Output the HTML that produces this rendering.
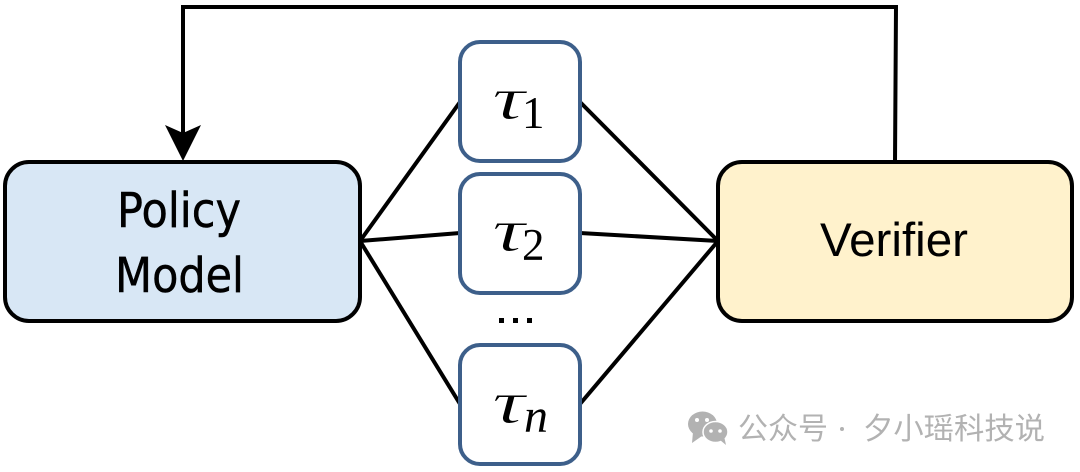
<!DOCTYPE html>
<html>
<head>
<meta charset="utf-8">
<style>
html,body{margin:0;padding:0;background:#fff;width:1080px;height:472px;overflow:hidden}
svg{display:block}
</style>
</head>
<body>
<svg width="1080" height="472" viewBox="0 0 1080 472" xmlns="http://www.w3.org/2000/svg">
<g fill="none" stroke="#000" stroke-width="4">
<path d="M360 241 L460 102"/>
<path d="M360 241 L460 233"/>
<path d="M360 241 L460 404"/>
<path d="M580 102 L718 241"/>
<path d="M580 233 L718 241"/>
<path d="M580 404 L718 241"/>
<path d="M895 162 L896 7 L183 7 L183 140"/>
</g>
<path d="M165 125 L183 133 L201 125 L183 161 Z" fill="#000"/>
<rect x="5" y="162" width="355" height="159" rx="24" fill="#d8e7f5" stroke="#000" stroke-width="4"/>
<rect x="718" y="162" width="354" height="159" rx="24" fill="#fff2cc" stroke="#000" stroke-width="4"/>
<g fill="#fff" stroke="#3d5f8a" stroke-width="4">
<rect x="460" y="42" width="120" height="119" rx="20"/>
<rect x="460" y="174" width="120" height="119" rx="20"/>
<rect x="460" y="345" width="120" height="119" rx="20"/>
</g>
<g font-family="'DejaVu Sans','Liberation Sans',sans-serif" font-size="48" fill="#000" stroke="#000" stroke-width="0.5" text-anchor="middle">
<text x="179" y="227" textLength="124" lengthAdjust="spacingAndGlyphs">Policy</text>
<text x="179.5" y="292" textLength="129" lengthAdjust="spacingAndGlyphs">Model</text>
</g>
<text x="894" y="256" font-family="'Liberation Sans',sans-serif" font-size="47" fill="#000" text-anchor="middle" textLength="148" lengthAdjust="spacingAndGlyphs">Verifier</text>
<g font-family="'Liberation Serif',serif" fill="#000">
<g stroke="#fff" stroke-width="0.9" paint-order="fill stroke">
<text x="492" y="119" font-size="60" font-style="italic" textLength="33" lengthAdjust="spacingAndGlyphs">τ</text>
<text x="492" y="251" font-size="60" font-style="italic" textLength="33" lengthAdjust="spacingAndGlyphs">τ</text>
<text x="492" y="423" font-size="60" font-style="italic" textLength="33" lengthAdjust="spacingAndGlyphs">τ</text>
</g>
<text x="522" y="128" font-size="45">1</text>
<text x="522" y="260" font-size="45">2</text>
<text x="524" y="432" font-size="48" font-style="italic">n</text>
</g>
<g fill="#000">
<rect x="499" y="318" width="5" height="5"/>
<rect x="513" y="318" width="5" height="5"/>
<rect x="527" y="318" width="5" height="5"/>
</g>
<g fill="#b2b2b2">
<ellipse cx="702.5" cy="424" rx="14.5" ry="12.5"/>
<path d="M693 432 L692 443 L702 436 Z"/>
</g>
<g fill="#b2b2b2" stroke="#fff" stroke-width="1.5">
<ellipse cx="715.5" cy="432" rx="12.5" ry="10.5"/>
</g>
<path d="M720 440 L726 445 L724 436 Z" fill="#b2b2b2"/>
<g fill="#fff">
<circle cx="697" cy="420" r="2"/><circle cx="707" cy="420" r="2"/>
<circle cx="711" cy="431" r="1.8"/><circle cx="720" cy="431" r="1.8"/>
</g>
<g font-family="'Liberation Sans','Noto Sans CJK SC',sans-serif" font-size="30" fill="#b2b2b2">
<text x="738" y="439">公众号</text>
<circle cx="842" cy="429" r="2"/>
<text x="863" y="439" textLength="182" lengthAdjust="spacingAndGlyphs">夕小瑶科技说</text>
</g>
</svg>
</body>
</html>
